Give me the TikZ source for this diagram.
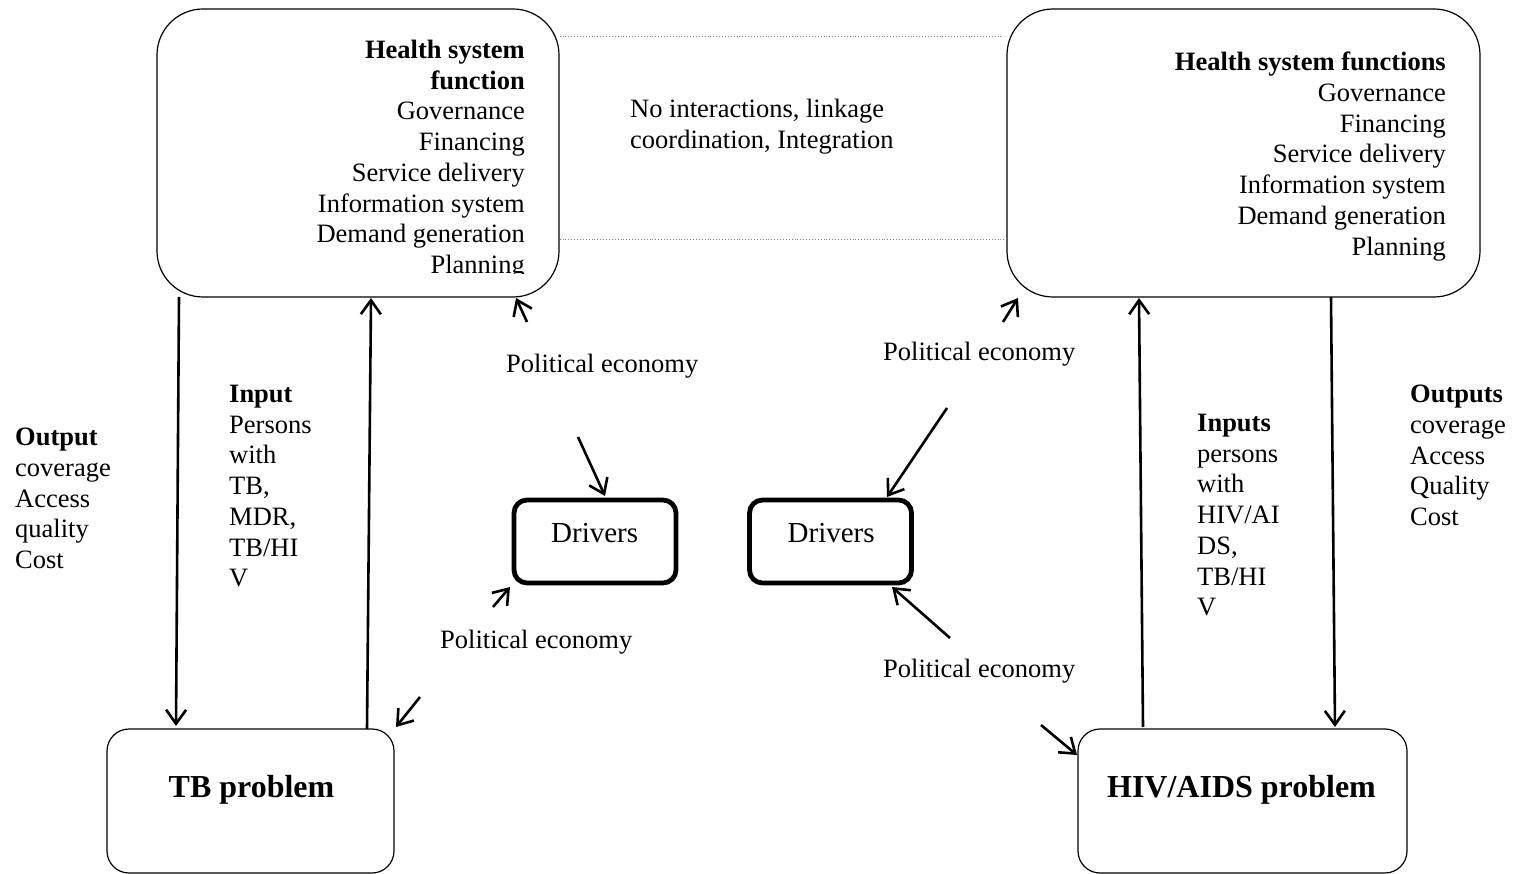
\documentclass[tikz,border=0pt]{standalone}
\usepackage{fontspec}
\setmainfont{Liberation Serif}
\usetikzlibrary{arrows.meta,calc}
\begin{document}
\begin{tikzpicture}[x=1pt,y=-1pt,
  txt/.style={font=\fontsize{26.5}{30.7}\selectfont, inner sep=0pt},
  drvtxt/.style={font=\fontsize{29}{34}\selectfont, inner sep=0pt},
  bigtxt/.style={font=\fontsize{32}{36}\selectfont\bfseries, inner sep=0pt},
  hsbox/.style={draw, line width=1.2pt, rounded corners=46pt, minimum height=288pt},
  probbox/.style={draw, line width=1.2pt, rounded corners=22pt, minimum height=144pt},
  drvbox/.style={draw, line width=4.8pt, rounded corners=13pt, minimum width=162pt, minimum height=83pt},
  arr/.style={line width=2.6pt, -{Straight Barb[length=14pt,width=20pt]}},
  dotline/.style={dotted, line width=0.9pt, gray}
]
\useasboundingbox (0,0) rectangle (1513,874);

% boxes
\node[hsbox, minimum width=402pt] (hsL) at (358,153) {};
\node[hsbox, minimum width=473pt] (hsR) at (1243.5,153) {};
\node[probbox, minimum width=287pt] (tb) at (250.5,801) {};
\node[probbox, minimum width=329pt] (hiv) at (1242.5,801) {};
\node[drvbox] (dL) at (595,541.5) {};
\node[drvbox] (dR) at (830.5,541.5) {};

% box texts
\begin{scope}
\clip (150,0) rectangle (560,274);
\node[txt, align=right, anchor=north east] (hsLt) at (525,40)
  {\textbf{Health system}\\\textbf{function}\\Governance\\Financing\\Service delivery\\Information system\\Demand generation\\Planning};
\end{scope}
\node[txt, align=right, anchor=north east] (hsRt) at (1446,52)
  {\textbf{Health system functions}\\Governance\\Financing\\Service delivery\\Information system\\Demand generation\\Planning};
\node[bigtxt, anchor=base] (tbt) at (251.5,797) {TB problem};
\node[bigtxt, anchor=base] (hivt) at (1241.5,797) {HIV/AIDS problem};
\node[drvtxt, anchor=base west] (dLt) at (551,542) {Drivers};
\node[drvtxt, anchor=base west] (dRt) at (787.5,542) {Drivers};

% dotted links
\draw[dotline] ($(hsL.north east)+(0,28)$) -- ($(hsR.north west)+(-5,28)$);
\draw[dotline] ($(hsL.north east)+(0,231)$) -- ($(hsR.north west)+(-2,231)$);
\node[txt, align=left, anchor=north west] (noint) at (630,99)
  {No interactions, linkage\\coordination, Integration};

% input / output labels
\node[txt, align=left, anchor=north west] (outL) at (15,428)
  {\textbf{Output}\\coverage\\Access\\quality\\Cost};
\node[txt, align=left, anchor=north west] (inL) at (229,385)
  {\textbf{Input}\\Persons\\with\\TB,\\MDR,\\TB/HI\\V};
\node[txt, align=left, anchor=north west] (inR) at (1197,414)
  {\textbf{Inputs}\\persons\\with\\HIV/AI\\DS,\\TB/HI\\V};
\node[txt, align=left, anchor=north west] (outR) at (1410,385)
  {\textbf{Outputs}\\coverage\\Access\\Quality\\Cost};

% political economy labels
\node[txt, anchor=base west] (pe1) at (506,373) {Political economy};
\node[txt, anchor=base west] (pe2) at (883,361) {Political economy};
\node[txt, anchor=base west] (pe3) at (440,648) {Political economy};
\node[txt, anchor=base west] (pe4) at (883,677) {Political economy};

% arrow end points
\coordinate (a1s) at (179,297);  \coordinate (a1e) at (176,726);
\coordinate (a2s) at (367,729);  \coordinate (a2e) at (371,298);
\coordinate (a3s) at (1143,727); \coordinate (a3e) at (1139,298);
\coordinate (a4s) at (1331,297); \coordinate (a4e) at (1335,727);
\coordinate (p1s) at (527,322);  \coordinate (p1e) at (516,298);
\coordinate (p2s) at (578,437);  \coordinate (p2e) at (605,496);
\coordinate (p3s) at (493,607);  \coordinate (p3e) at (510,587);
\coordinate (p4s) at (420,697);  \coordinate (p4e) at (396,727);
\coordinate (p5s) at (1003,322); \coordinate (p5e) at (1018,298);
\coordinate (p6s) at (947,408);  \coordinate (p6e) at (887,497);
\coordinate (p7s) at (950,638);  \coordinate (p7e) at (892,587);
\coordinate (p8s) at (1041,725); \coordinate (p8e) at (1077,755);

\draw[arr] (a1s) -- (a1e);
\draw[arr] (a2s) -- (a2e);
\draw[arr] (a3s) -- (a3e);
\draw[arr] (a4s) -- (a4e);
\foreach \p in {p1,p2,p3,p4,p5,p6,p7,p8}
  \draw[arr] (\p s) -- (\p e);
\end{tikzpicture}
\end{document}
